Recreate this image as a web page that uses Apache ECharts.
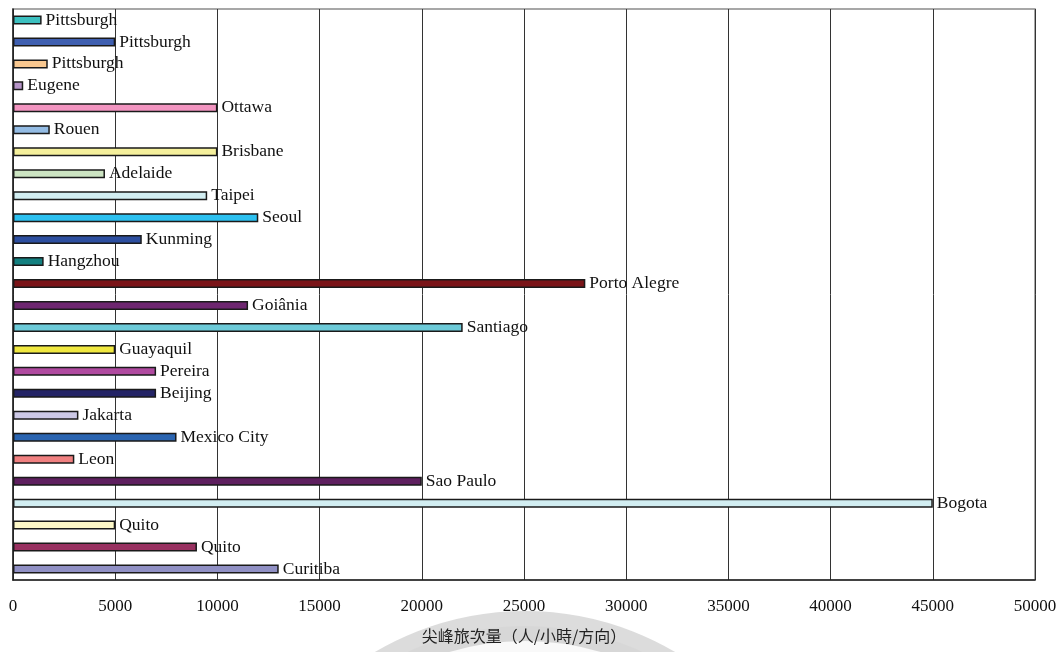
<!DOCTYPE html>
<html>
<head>
<meta charset="utf-8">
<script src="https://cdn.jsdelivr.net/npm/echarts@6/dist/echarts.min.js"></script>
<style>
  html, body { margin: 0; padding: 0; background: #fff; }
  #chart { width: 1061px; height: 652px; }
</style>
</head>
<body>
<div id="chart"></div>
<script>
// Peak-hour ridership by city (passengers / hour / direction)
const cities = [
  'Pittsburgh', 'Pittsburgh', 'Pittsburgh', 'Eugene', 'Ottawa', 'Rouen',
  'Brisbane', 'Adelaide', 'Taipei', 'Seoul', 'Kunming', 'Hangzhou',
  'Porto Alegre', 'Goiânia', 'Santiago', 'Guayaquil', 'Pereira', 'Beijing',
  'Jakarta', 'Mexico City', 'Leon', 'Sao Paulo', 'Bogota', 'Quito', 'Quito',
  'Curitiba'
];
const peakRidership = [
  1400, 5000, 1700, 500, 10000, 1800,
  10000, 4500, 9500, 12000, 6300, 1500,
  28000, 11500, 22000, 5000, 7000, 7000,
  3200, 8000, 3000, 20000, 45000, 5000, 9000,
  13000
];
const xTicks = { min: 0, max: 50000, step: 5000 };
const axisTitle = '尖峰旅次量（人/小時/方向）';

// Fill colour of each bar, top to bottom
const barColors = [
  '#3cc0c0', '#3f5fb0', '#f9c890', '#b694c8', '#f294c0', '#94bce4',
  '#f5f09c', '#cce4c2', '#d2eef2', '#2cc0f0', '#2d4fa0', '#138080',
  '#7a1418', '#6e2670', '#6ccad8', '#f0e840', '#b04aa0', '#242466',
  '#ccc8e6', '#2a64b0', '#f08080', '#5e1f5f', '#d2eef2', '#fdf8c8', '#983060',
  '#9090c4'
];

const serif = '"Liberation Serif", "DejaVu Serif", serif';

const chart = echarts.init(document.getElementById('chart'), null, { renderer: 'canvas' });

chart.setOption({
  animation: false,
  backgroundColor: '#fff',
  graphic: [
    {
      // faint circular seal behind the axis title
      type: 'circle',
      z: -10,
      silent: true,
      shape: { cx: 525, cy: 906, r: 280 },
      style: { fill: 'rgba(0,0,0,0.025)', stroke: 'rgba(120,120,120,0.26)', lineWidth: 30 }
    }
  ],
  grid: {
    left: 13, right: 26, top: 9, bottom: 72,
    show: true, borderColor: '#8a8a8a', borderWidth: 1.5,
    containLabel: false,
    outerBoundsMode: 'none'
  },
  xAxis: {
    type: 'value',
    min: xTicks.min, max: xTicks.max, interval: xTicks.step,
    name: axisTitle,
    nameLocation: 'middle',
    nameGap: 48,
    nameTextStyle: { fontFamily: '"Noto Sans CJK TC", sans-serif', fontSize: 16, color: '#222' },
    axisLine: { show: true, lineStyle: { color: '#222', width: 1.5 } },
    axisTick: { show: false },
    axisLabel: {
      fontFamily: serif, fontSize: 17, color: '#111', margin: 18,
      formatter: v => String(v)
    },
    splitLine: { show: true, lineStyle: { color: '#333', width: 1 } }
  },
  yAxis: {
    type: 'category',
    inverse: true,
    data: cities,
    axisLine: { show: true, lineStyle: { color: '#222', width: 1.5 } },
    axisTick: { show: false },
    axisLabel: { show: false },
    splitLine: { show: false }
  },
  series: [{
    type: 'bar',
    barWidth: 9,
    data: peakRidership.map((v, i) => ({
      value: v,
      itemStyle: { color: barColors[i] }
    })),
    itemStyle: { borderColor: '#1a1a1a', borderWidth: 1.5 },
    label: {
      show: true,
      position: 'right',
      distance: 4,
      formatter: p => cities[p.dataIndex],
      fontFamily: serif,
      fontSize: 17.5,
      color: '#111'
    }
  }]
});
</script>
</body>
</html>
